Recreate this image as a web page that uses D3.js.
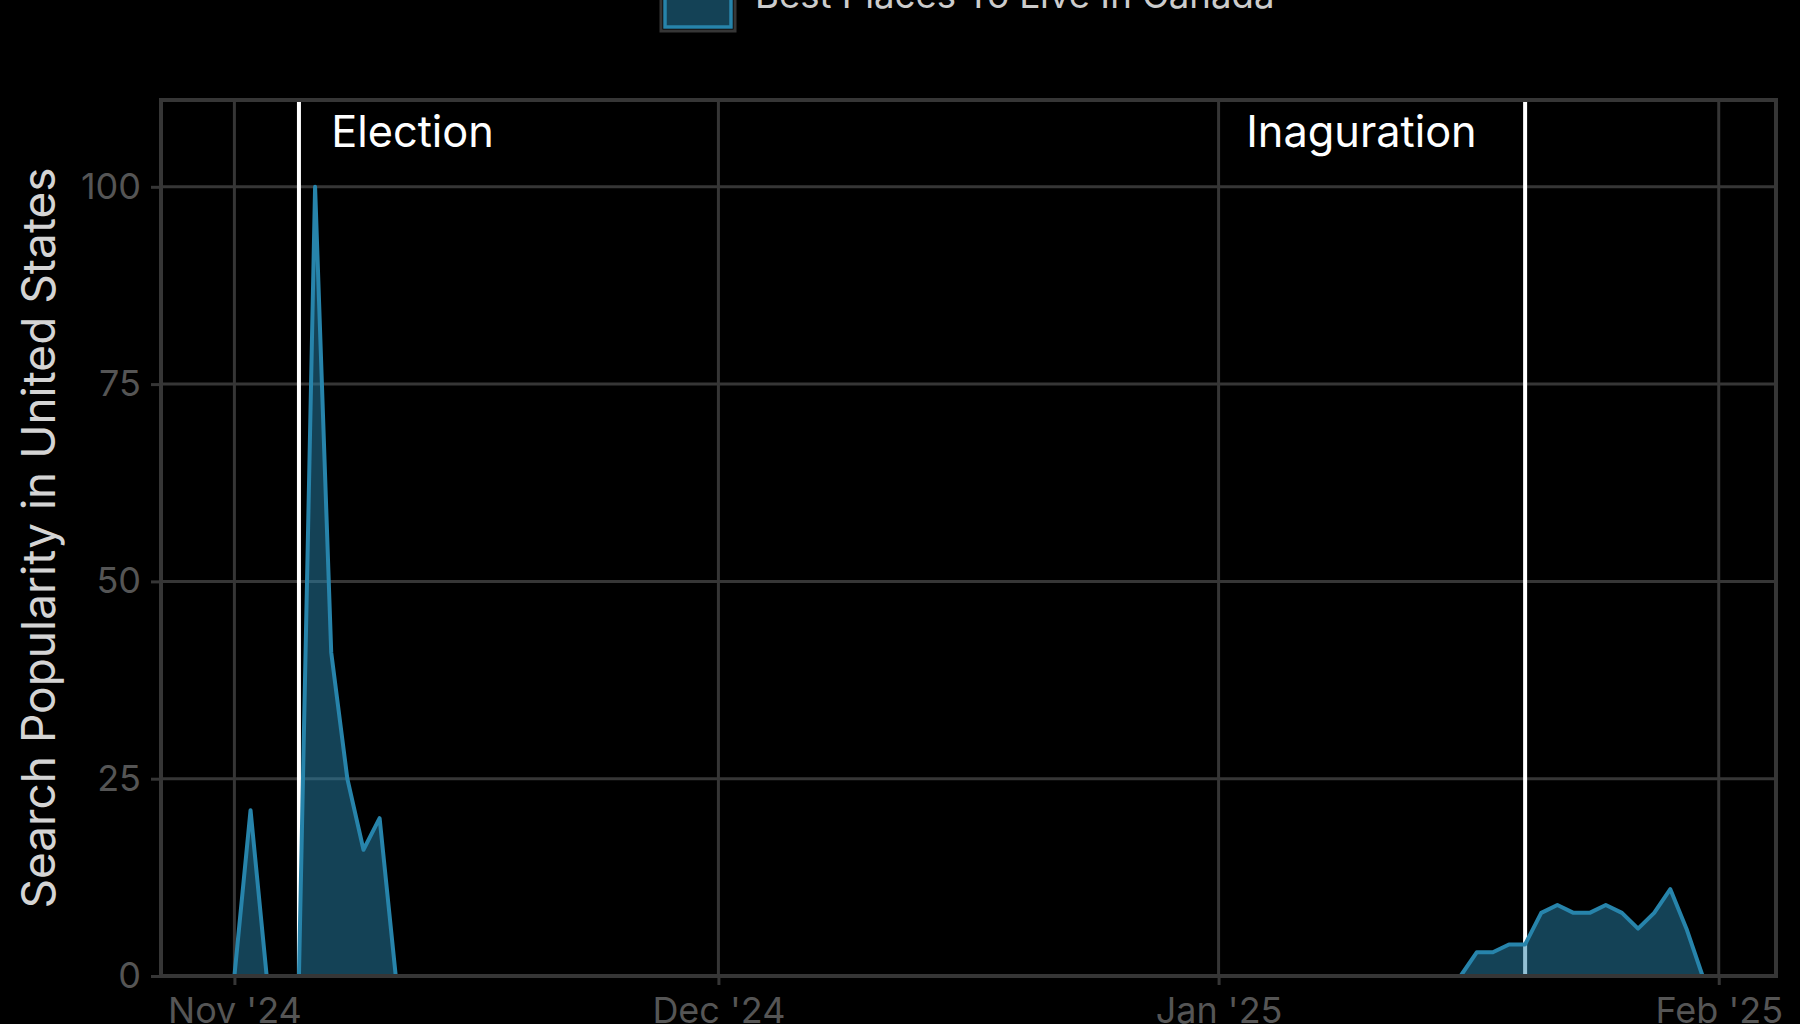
<!DOCTYPE html>
<html>
<head>
<meta charset="utf-8">
<script src="https://cdn.jsdelivr.net/npm/d3@7.9.0/dist/d3.min.js"></script>
<style>
  html, body { margin: 0; padding: 0; background: #000; }
  svg { display: block; }
</style>
</head>
<body>
<div id="chart"></div>
<script>
// daily search popularity, Nov 1 2024 .. Jan 31 2025
const startDate = "2024-11-01";
const novValues = [0, 21, 0, 0, 0, 100, 41, 25, 16, 20,
  0, 0, 0, 0, 0, 0, 0, 0, 0, 0,
  0, 0, 0, 0, 0, 0, 0, 0, 0, 0];
const decValues = [0, 0, 0, 0, 0, 0, 0, 0, 0, 0,
  0, 0, 0, 0, 0, 0, 0, 0, 0, 0,
  0, 0, 0, 0, 0, 0, 0, 0, 0, 0, 0];
const janValues = [0, 0, 0, 0, 0, 0, 0, 0, 0, 0,
  0, 0, 0, 0, 0, 0, 3, 3, 4, 4,
  8, 9, 8, 8, 9, 8, 6, 8, 11, 6, 0];

const seriesName = "Best Places To Live In Canada";
const yTitle = "Search Popularity in United States";

const eventDates = ["2024-11-05", "2025-01-20"];
const eventLabels = ["Election", "Inaguration"];
const eventLabelDates = ["2024-11-07", "2025-01-17"];
const eventLabelAnchors = ["start", "end"];
const eventLabelLevel = 105;

const yTicks = [0, 25, 50, 75, 100];
const xTickDates = ["2024-11-01", "2024-12-01", "2025-01-01", "2025-02-01"];
const xTickLabels = ["Nov '24", "Dec '24", "Jan '25", "Feb '25"];

const parseDay = d3.utcParse("%Y-%m-%d");

const values = [...novValues, ...decValues, ...janValues];
const data = values.map((v, i) => ({
  date: d3.utcDay.offset(parseDay(startDate), i),
  value: v,
}));

const width = 1800;
const height = 1024;
const margin = { top: 100, right: 24, bottom: 48, left: 161 };
const lineColor = "#2784ab";
const gridColor = "#363636";
const fontFamily = "Inter, 'Liberation Sans', Arial, sans-serif";

const svg = d3.select("#chart")
  .append("svg")
  .attr("width", width)
  .attr("height", height)
  .style("background", "#000")
  .style("font-family", fontFamily);

// pad the time domain by 5% of the data span on both sides
const [d0, d1] = d3.extent(data, d => d.date);
const padMs = (d1 - d0) * 0.05;
const x = d3.scaleUtc()
  .domain([new Date(+d0 - padMs), new Date(+d1 + padMs)])
  .range([margin.left, width - margin.right]);

const y = d3.scaleLinear()
  .domain([0, 111])
  .range([height - margin.bottom, margin.top]);

// gridlines
svg.append("g")
  .selectAll("line")
  .data(yTicks)
  .join("line")
  .attr("x1", margin.left)
  .attr("x2", width - margin.right)
  .attr("y1", d => y(d))
  .attr("y2", d => y(d))
  .attr("stroke", gridColor)
  .attr("stroke-width", 3);

svg.append("g")
  .selectAll("line")
  .data(xTickDates)
  .join("line")
  .attr("x1", d => x(parseDay(d)))
  .attr("x2", d => x(parseDay(d)))
  .attr("y1", margin.top)
  .attr("y2", height - margin.bottom)
  .attr("stroke", gridColor)
  .attr("stroke-width", 3);

// event markers
svg.append("g")
  .selectAll("line")
  .data(eventDates)
  .join("line")
  .attr("x1", d => x(parseDay(d)))
  .attr("x2", d => x(parseDay(d)))
  .attr("y1", margin.top)
  .attr("y2", height - margin.bottom)
  .attr("stroke", "#ffffff")
  .attr("stroke-width", 4);

// series
const area = d3.area()
  .x(d => x(d.date))
  .y0(y(0))
  .y1(d => y(d.value));

const line = d3.line()
  .x(d => x(d.date))
  .y(d => y(d.value));

svg.append("path")
  .datum(data)
  .attr("d", area)
  .attr("fill", lineColor)
  .attr("fill-opacity", 0.5);

svg.append("path")
  .datum(data)
  .attr("d", line)
  .attr("fill", "none")
  .attr("stroke", lineColor)
  .attr("stroke-width", 4)
  .attr("stroke-linejoin", "round");

// panel border on top
svg.append("rect")
  .attr("x", margin.left)
  .attr("y", margin.top)
  .attr("width", width - margin.right - margin.left)
  .attr("height", height - margin.bottom - margin.top)
  .attr("fill", "none")
  .attr("stroke", gridColor)
  .attr("stroke-width", 4);

// axes
const yAxis = svg.append("g")
  .attr("transform", `translate(${margin.left},0)`)
  .call(d3.axisLeft(y).tickValues(yTicks).tickSize(10).tickPadding(10));

const xAxis = svg.append("g")
  .attr("transform", `translate(0,${height - margin.bottom})`)
  .call(d3.axisBottom(x)
    .tickValues(xTickDates.map(parseDay))
    .tickFormat((d, i) => xTickLabels[i])
    .tickSize(9)
    .tickPadding(12));

[yAxis, xAxis].forEach(g => {
  g.select(".domain").remove();
  g.selectAll(".tick line").attr("stroke", gridColor).attr("stroke-width", 3);
  g.selectAll(".tick text")
    .attr("fill", "#555555")
    .style("font-size", "36px")
    .style("font-family", fontFamily);
});

// event labels
svg.append("g")
  .selectAll("text")
  .data(eventLabels)
  .join("text")
  .attr("x", (d, i) => x(parseDay(eventLabelDates[i])))
  .attr("y", y(eventLabelLevel))
  .attr("text-anchor", (d, i) => eventLabelAnchors[i])
  .attr("fill", "#ffffff")
  .style("font-size", "43.3px")
  .text(d => d);

// y axis title
svg.append("text")
  .attr("transform", `translate(55,${(margin.top + height - margin.bottom) / 2}) rotate(-90)`)
  .attr("text-anchor", "middle")
  .attr("fill", "#d4d4d4")
  .style("font-size", "46px")
  .text(yTitle);

// legend (partly above the top edge)
const legend = svg.append("g");
legend.append("rect")
  .attr("x", 661)
  .attr("y", -44)
  .attr("width", 74)
  .attr("height", 75)
  .attr("fill", "none")
  .attr("stroke", gridColor)
  .attr("stroke-width", 3);
legend.append("rect")
  .attr("x", 665)
  .attr("y", -40)
  .attr("width", 66)
  .attr("height", 67)
  .attr("fill", lineColor)
  .attr("fill-opacity", 0.5)
  .attr("stroke", lineColor)
  .attr("stroke-width", 3.5);
legend.append("text")
  .attr("x", 755)
  .attr("y", 8)
  .attr("fill", "#cccccc")
  .style("font-size", "36.6px")
  .text(seriesName);
</script>
</body>
</html>
